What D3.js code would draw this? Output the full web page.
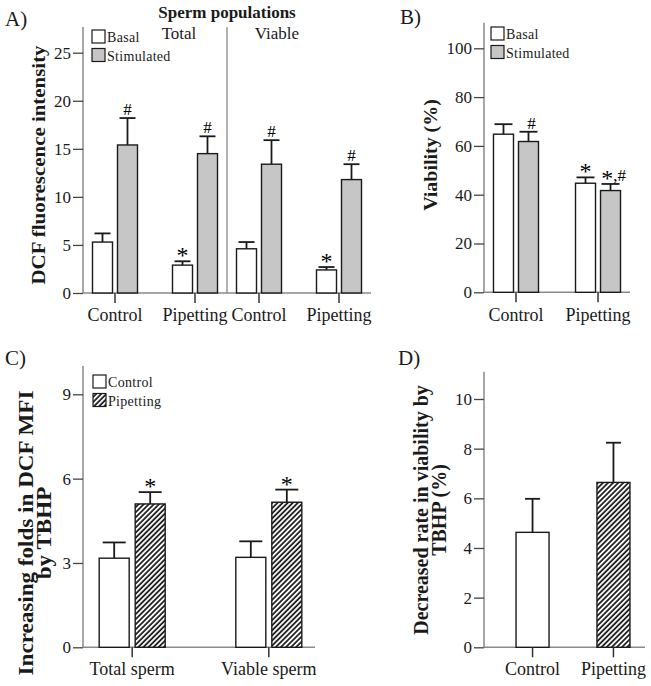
<!DOCTYPE html>
<html><head><meta charset="utf-8">
<script src="https://cdn.jsdelivr.net/npm/d3@7"></script>
<style>
body{margin:0;background:#fff;}
svg{display:block;font-family:"Liberation Serif","Times New Roman",serif;}
</style></head>
<body><svg id="c" width="651" height="686"></svg>
<script>
// ---------- DATA ----------
// Panel A: DCF fluorescence intensity
const aSections = ["Total", "Viable"];
const aGroups = ["Control", "Pipetting"];
const aSeries = ["Basal", "Stimulated"];
const aBasal      = [5.3, 2.9, 4.6, 2.4];   // Total-Control, Total-Pipetting, Viable-Control, Viable-Pipetting
const aBasalErr   = [0.9, 0.4, 0.7, 0.3];
const aStim       = [15.4, 14.5, 13.4, 11.8];
const aStimErr    = [2.8, 1.8, 2.5, 1.6];
const aBasalMark  = ["", "*", "", "*"];
const aStimMark   = ["#", "#", "#", "#"];
const aTicks = [0, 5, 10, 15, 20, 25];

// Panel B: Viability (%)
const bGroups = ["Control", "Pipetting"];
const bBasal     = [64.8, 44.7];
const bBasalErr  = [4.1, 2.4];
const bStim      = [61.8, 41.7];
const bStimErr   = [4.0, 2.7];
const bBasalMark = ["", "*"];
const bStimMark  = ["#", "*,#"];
const bTicks = [0, 20, 40, 60, 80, 100];

// Panel C: Increasing folds in DCF MFI by TBHP
const cGroups = ["Total sperm", "Viable sperm"];
const cSeries = ["Control", "Pipetting"];
const cControl    = [3.17, 3.2];
const cControlErr = [0.56, 0.57];
const cPip        = [5.1, 5.16];
const cPipErr     = [0.42, 0.45];
const cPipMark    = ["*", "*"];
const cTicks = [0, 3, 6, 9];

// Panel D: Decreased rate in viability by TBHP (%)
const dGroups = ["Control", "Pipetting"];
const dValues = [4.63, 6.64];
const dErr    = [1.35, 1.6];
const dTicks = [0, 2, 4, 6, 8, 10];

// ---------- DRAWING ----------
const svg = d3.select("#c");
const AXIS = "#8a8a8a", INK = "#1a1a1a", GREY = "#c6c6c6";

const defs = svg.append("defs");
const pat = defs.append("pattern").attr("id","hatch").attr("patternUnits","userSpaceOnUse")
  .attr("width",3.6).attr("height",3.6).attr("patternTransform","rotate(45)");
pat.append("rect").attr("width",3.6).attr("height",3.6).attr("fill","#fff");
pat.append("line").attr("x1",1).attr("y1",-1).attr("x2",1).attr("y2",5)
  .attr("stroke","#111").attr("stroke-width",1.7);

function fillOf(kind){ return kind==="hatch" ? "url(#hatch)" : (kind==="grey" ? GREY : "#fff"); }

function yAxis(g, y, x0, ticks, top){
  g.append("line").attr("x1",x0).attr("x2",x0).attr("y1",top).attr("y2",y(0))
    .attr("stroke",AXIS).attr("stroke-width",1.5);
  const ax = d3.axisLeft(y).tickValues(ticks).tickSize(10).tickPadding(2).tickFormat(d3.format("d"));
  const a = g.append("g").attr("transform",`translate(${x0},0)`).call(ax);
  a.attr("font-family",null);
  a.select(".domain").remove();
  a.selectAll(".tick line").attr("stroke","#444").attr("stroke-width",1.3);
  a.selectAll(".tick text").attr("font-size",17).attr("fill",INK)
    .attr("font-family","Liberation Serif");
}

function xAxisLine(g, x0, x1, yb){
  g.append("line").attr("x1",x0).attr("x2",x1).attr("y1",yb).attr("y2",yb)
    .attr("stroke",AXIS).attr("stroke-width",1.5);
}

function groupTick(g, cx, yb, label, labY){
  g.append("line").attr("x1",cx).attr("x2",cx).attr("y1",yb).attr("y2",yb+10)
    .attr("stroke","#333").attr("stroke-width",1.5);
  g.append("text").attr("x",cx).attr("y",labY).attr("text-anchor","middle")
    .attr("font-size",18).attr("fill",INK).text(label);
}

function bar(g, xl, w, y, v, e, kind, cap){
  g.append("rect").attr("x",xl).attr("y",y(v)).attr("width",w).attr("height",y(0)-y(v))
    .attr("fill",fillOf(kind)).attr("stroke",INK).attr("stroke-width",1.4);
  const cx = xl + w/2;
  g.append("line").attr("x1",cx).attr("x2",cx).attr("y1",y(v)).attr("y2",y(v+e))
    .attr("stroke",INK).attr("stroke-width",1.8);
  g.append("line").attr("x1",cx-cap/2).attr("x2",cx+cap/2).attr("y1",y(v+e)).attr("y2",y(v+e))
    .attr("stroke",INK).attr("stroke-width",1.8);
}

function mark(g, cx, yTop, m){
  if(!m) return;
  const t = g.append("text").attr("x",cx).attr("text-anchor","middle").attr("fill","#000");
  if(m === "#"){ t.attr("y",yTop-3).attr("font-size",17).text("#"); }
  else if(m === "*"){ t.attr("y",yTop+2).attr("font-size",24).text("*"); }
  else {
    t.attr("y",yTop-3);
    t.append("tspan").attr("font-size",24).attr("dy",5).text("*");
    t.append("tspan").attr("font-size",17).attr("dy",-5).text(",");
    t.append("tspan").attr("font-size",17).text("#");
  }
}

function legend(g, x, y, items){
  items.forEach((it,i)=>{
    g.append("rect").attr("x",x).attr("y",y+i*18.5).attr("width",13).attr("height",13)
      .attr("fill",fillOf(it.kind)).attr("stroke",INK).attr("stroke-width",1.2);
    g.append("text").attr("x",x+15).attr("y",y+i*18.5+12).attr("font-size",14)
      .attr("fill",INK).attr("letter-spacing",0.3).text(it.label);
  });
}

function panelLabel(x,y,t){
  svg.append("text").attr("x",x).attr("y",y).attr("font-size",21).attr("fill",INK).text(t);
}

function yLabel(x, y, lines, size, stretch, gap){
  const g = svg.append("g").attr("transform",`translate(${x},${y}) rotate(-90) scale(${stretch},1)`);
  lines.forEach((l,i)=>{
    g.append("text").attr("x",0).attr("y",i*gap).attr("text-anchor","middle")
      .attr("font-size",size).attr("font-weight","bold").attr("fill",INK).text(l);
  });
}

// ---- Panel A ----
{
  const g = svg.append("g");
  const x0 = 83, x1 = 371, yb = 293;
  const y = d3.scaleLinear().domain([0,25]).range([yb,52.7]);
  const sec = d3.scaleBand().domain(aSections).range([x0,x1]);
  const grp = d3.scalePoint().domain(aGroups).range([0,sec.bandwidth()]).padding(0.4);
  const ser = d3.scaleBand().domain(aSeries).range([-22.5,22.5]).paddingInner(0.2);
  yAxis(g, y, x0, aTicks, 27);
  xAxisLine(g, x0, x1, yb);
  // divider
  g.append("line").attr("x1",sec("Viable")).attr("x2",sec("Viable")).attr("y1",27).attr("y2",yb)
    .attr("stroke",AXIS).attr("stroke-width",1.3);
  const secLabelShift = [24, -22];
  let k = 0;
  aSections.forEach((s,si)=>{
    aGroups.forEach(gr=>{
      const cx = sec(s) + grp(gr);
      const bl = cx + ser("Basal"), sl = cx + ser("Stimulated"), w = ser.bandwidth();
      bar(g, bl, w, y, aBasal[k], aBasalErr[k], "white", 16);
      bar(g, sl, w, y, aStim[k], aStimErr[k], "grey", 16);
      mark(g, bl+w/2, y(aBasal[k]+aBasalErr[k]), aBasalMark[k]);
      mark(g, sl+w/2, y(aStim[k]+aStimErr[k]), aStimMark[k]);
      groupTick(g, cx, yb, gr, 321);
      k++;
    });
    g.append("text").attr("x",sec(s)+sec.bandwidth()/2+secLabelShift[si]).attr("y",39)
      .attr("text-anchor","middle").attr("font-size",17).attr("fill",INK).text(s);
  });
  g.append("text").attr("x",227).attr("y",18).attr("text-anchor","middle")
    .attr("font-size",17).attr("font-weight","bold").attr("fill",INK).text("Sperm populations");
  legend(g, 92, 30, [{label:"Basal",kind:"white"},{label:"Stimulated",kind:"grey"}]);
  panelLabel(5, 26, "A)");
  yLabel(45, 165, ["DCF fluorescence intensity"], 19, 1.1, 0);
}

// ---- Panel B ----
{
  const g = svg.append("g");
  const x0 = 484, x1 = 630, yb = 292.3;
  const y = d3.scaleLinear().domain([0,100]).range([yb,48.3]);
  const grp = d3.scalePoint().domain(bGroups).range([x0,x1]).padding(0.39);
  const ser = d3.scaleBand().domain(aSeries).range([-22.5,22.5]).paddingInner(0.2);
  yAxis(g, y, x0, bTicks, 22.7);
  xAxisLine(g, x0, x1, yb);
  bGroups.forEach((gr,k)=>{
    const cx = grp(gr);
    const bl = cx + ser("Basal"), sl = cx + ser("Stimulated"), w = ser.bandwidth();
    bar(g, bl, w, y, bBasal[k], bBasalErr[k], "white", 18);
    bar(g, sl, w, y, bStim[k], bStimErr[k], "grey", 18);
    mark(g, bl+w/2, y(bBasal[k]+bBasalErr[k]), bBasalMark[k]);
    mark(g, sl+w/2+3, y(bStim[k]+bStimErr[k]), bStimMark[k]);
    groupTick(g, cx, yb, gr, 321);
  });
  legend(g, 491, 27, [{label:"Basal",kind:"white"},{label:"Stimulated",kind:"grey"}]);
  panelLabel(400, 24, "B)");
  yLabel(437, 155, ["Viability (%)"], 19, 1.05, 0);
}

// ---- Panel C ----
{
  const g = svg.append("g");
  const x0 = 83, x1 = 315, yb = 647.3;
  const y = d3.scaleLinear().domain([0,9]).range([yb,394.3]);
  const grp = d3.scalePoint().domain(cGroups).range([x0,318]).padding(0.36);
  const ser = d3.scaleBand().domain(cSeries).range([-33,33]).paddingInner(0.1667);
  yAxis(g, y, x0, cTicks, 366);
  xAxisLine(g, x0, x1, yb);
  cGroups.forEach((gr,k)=>{
    const cx = grp(gr);
    const cl = cx + ser("Control"), pl = cx + ser("Pipetting"), w = ser.bandwidth();
    bar(g, cl, w, y, cControl[k], cControlErr[k], "white", 23);
    bar(g, pl, w, y, cPip[k], cPipErr[k], "hatch", 23);
    mark(g, pl+w/2, y(cPip[k]+cPipErr[k]), cPipMark[k]);
    groupTick(g, cx, yb, gr, 675);
  });
  legend(g, 93, 375, [{label:"Control",kind:"white"},{label:"Pipetting",kind:"hatch"}]);
  panelLabel(5, 365, "C)");
  yLabel(33, 533, ["Increasing folds in DCF MFI", "by TBHP"], 21, 1.1, 18);
}

// ---- Panel D ----
{
  const g = svg.append("g");
  const x0 = 484, x1 = 645, yb = 647.3;
  const y = d3.scaleLinear().domain([0,10]).range([yb,399]);
  const grp = d3.scalePoint().domain(dGroups).range([x0,662]).padding(0.6);
  yAxis(g, y, x0, dTicks, 371.7);
  xAxisLine(g, x0, x1, yb);
  const w = 33;
  dGroups.forEach((gr,k)=>{
    const cx = grp(gr);
    bar(g, cx-w/2, w, y, dValues[k], dErr[k], k===0?"white":"hatch", 15);
    groupTick(g, cx, yb, gr, 675);
  });
  panelLabel(398, 365, "D)");
  yLabel(428, 510, ["Decreased rate in viability by", "TBHP (%)"], 20, 1.0, 18);
}
</script></body></html>
